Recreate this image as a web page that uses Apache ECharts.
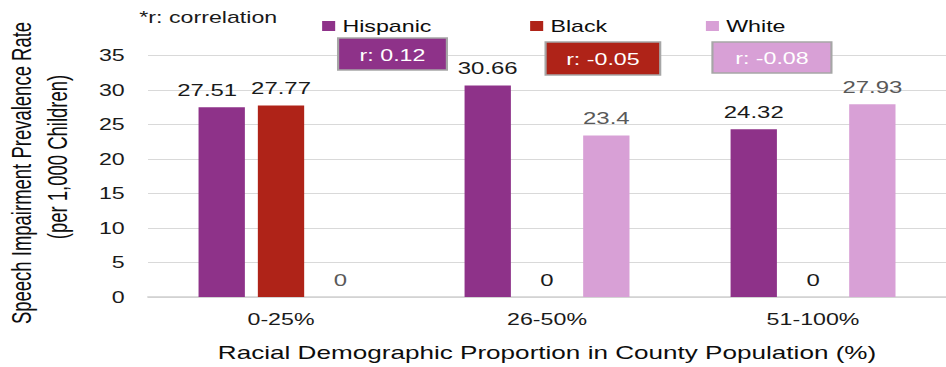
<!DOCTYPE html>
<html>
<head>
<meta charset="utf-8">
<script src="https://cdn.jsdelivr.net/npm/echarts@6/dist/echarts.min.js"></script>
<style>
  html, body { margin: 0; padding: 0; background: #ffffff; overflow: hidden; }
  /* the chart is laid out narrow and widened to the page width */
  #chart { width: 652px; height: 367px; transform: scaleX(1.451); transform-origin: 0 0; }
</style>
</head>
<body>
<div id="chart"></div>
<script>
// Categories: share of the county population belonging to each group
const categories = ['0-25%', '26-50%', '51-100%'];

// Speech impairment prevalence per 1,000 children
const hispanic = [27.51, 30.66, 24.32];
const black = [27.77, 0, 0];
const white = [0, 23.4, 27.93];

const seriesNames = ['Hispanic', 'Black', 'White'];

// Correlation coefficient per group
const correlations = [0.12, -0.05, -0.08];

// Value axis range
const yMin = 0;
const yMax = 35;
const yStep = 5;

const colors = ['#8E3289', '#AF2318', '#D8A0D6'];
const labelColors = ['#1a1a1a', '#1a1a1a', '#595959'];
const font = '"Liberation Sans", Arial, sans-serif';
const narrowFont = '"Liberation Sans Narrow", "Arial Narrow", "Liberation Sans", sans-serif';

const chart = echarts.init(document.getElementById('chart'), null, { renderer: 'svg' });

function barSeries(name, values, idx) {
  return {
    name: name,
    type: 'bar',
    // the first Hispanic label is nudged left so it clears its neighbour
    data: values.map(function (v, i) {
      if (idx === 0 && i === 0) {
        return { value: v, label: { offset: [-10, 0] } };
      }
      return v;
    }),
    barGap: '28%',
    barCategoryGap: '38%',
    itemStyle: { color: colors[idx] },
    label: {
      show: true,
      position: 'top',
      distance: 9,
      fontFamily: font,
      fontSize: 16.5,
      color: labelColors[idx]
    }
  };
}

// boxes showing r for each group, under the legend entries
const boxes = [
  { x: 233, y: 38, w: 75, h: 32 },
  { x: 376, y: 42, w: 79, h: 33 },
  { x: 491, y: 42, w: 82, h: 31 }
];

const graphics = boxes.map(function (b, i) {
  const r = correlations[i];
  return {
    type: 'group',
    x: b.x,
    y: b.y,
    z: 100,
    children: [
      {
        type: 'rect',
        z: 100,
        shape: { x: 0, y: 0, width: b.w, height: b.h },
        style: { fill: colors[i], stroke: '#a6a6a6', lineWidth: 1.5 }
      },
      {
        type: 'text',
        z: 101,
        x: b.w / 2,
        y: b.h / 2 + 1,
        style: {
          text: 'r: ' + r.toFixed(2),
          fill: '#ffffff',
          font: '16px ' + font,
          align: 'center',
          verticalAlign: 'middle',
          textAlign: 'center',
          textVerticalAlign: 'middle'
        }
      }
    ]
  };
});

graphics.push({
  type: 'text',
  x: 96,
  y: 17,
  style: {
    text: '*r: correlation',
    fill: '#1a1a1a',
    font: '16px ' + font,
    align: 'left',
    verticalAlign: 'middle',
    textAlign: 'left',
    textVerticalAlign: 'middle'
  }
});

// two-line value axis title, reading bottom to top
graphics.push({
  type: 'text',
  x: 15,
  y: 173,
  rotation: Math.PI / 2,
  style: {
    text: 'Speech Impairment Prevalence Rate',
    fill: '#0d0d0d',
    font: '18.5px ' + narrowFont,
    align: 'center',
    verticalAlign: 'middle',
    textAlign: 'center',
    textVerticalAlign: 'middle'
  }
});
graphics.push({
  type: 'text',
  x: 40,
  y: 157,
  rotation: Math.PI / 2,
  style: {
    text: '(per 1,000 Children)',
    fill: '#0d0d0d',
    font: '18.5px ' + narrowFont,
    align: 'center',
    verticalAlign: 'middle',
    textAlign: 'center',
    textVerticalAlign: 'middle'
  }
});

chart.setOption({
  animation: false,
  backgroundColor: '#ffffff',
  textStyle: { fontFamily: font },
  legend: {
    data: seriesNames,
    left: 217,
    top: 13,
    icon: 'rect',
    itemWidth: 9,
    itemHeight: 10,
    itemGap: 68,
    itemStyle: { borderWidth: 0 },
    textStyle: { fontFamily: font, fontSize: 16, color: '#0d0d0d' }
  },
  grid: {
    left: 102,
    top: 55.5,
    width: 558,
    bottom: 70,
    containLabel: false
  },
  xAxis: {
    type: 'category',
    data: categories,
    axisTick: { show: false },
    axisLine: { lineStyle: { color: '#d0d0d0', width: 1.5 } },
    axisLabel: { margin: 14, fontFamily: font, fontSize: 16, color: '#1a1a1a' },
    name: 'Racial Demographic Proportion in County Population (%)',
    nameLocation: 'middle',
    nameGap: 47,
    nameTextStyle: { fontFamily: font, fontSize: 18, color: '#0d0d0d' }
  },
  yAxis: {
    type: 'value',
    min: yMin,
    max: yMax,
    interval: yStep,
    axisLine: { show: false },
    axisTick: { show: false },
    axisLabel: { margin: 16, fontFamily: font, fontSize: 16, color: '#1a1a1a' },
    splitLine: { lineStyle: { color: '#d9d9d9', width: 1 } }
  },
  graphic: graphics,
  series: [
    barSeries(seriesNames[0], hispanic, 0),
    barSeries(seriesNames[1], black, 1),
    barSeries(seriesNames[2], white, 2)
  ]
});
</script>
</body>
</html>
